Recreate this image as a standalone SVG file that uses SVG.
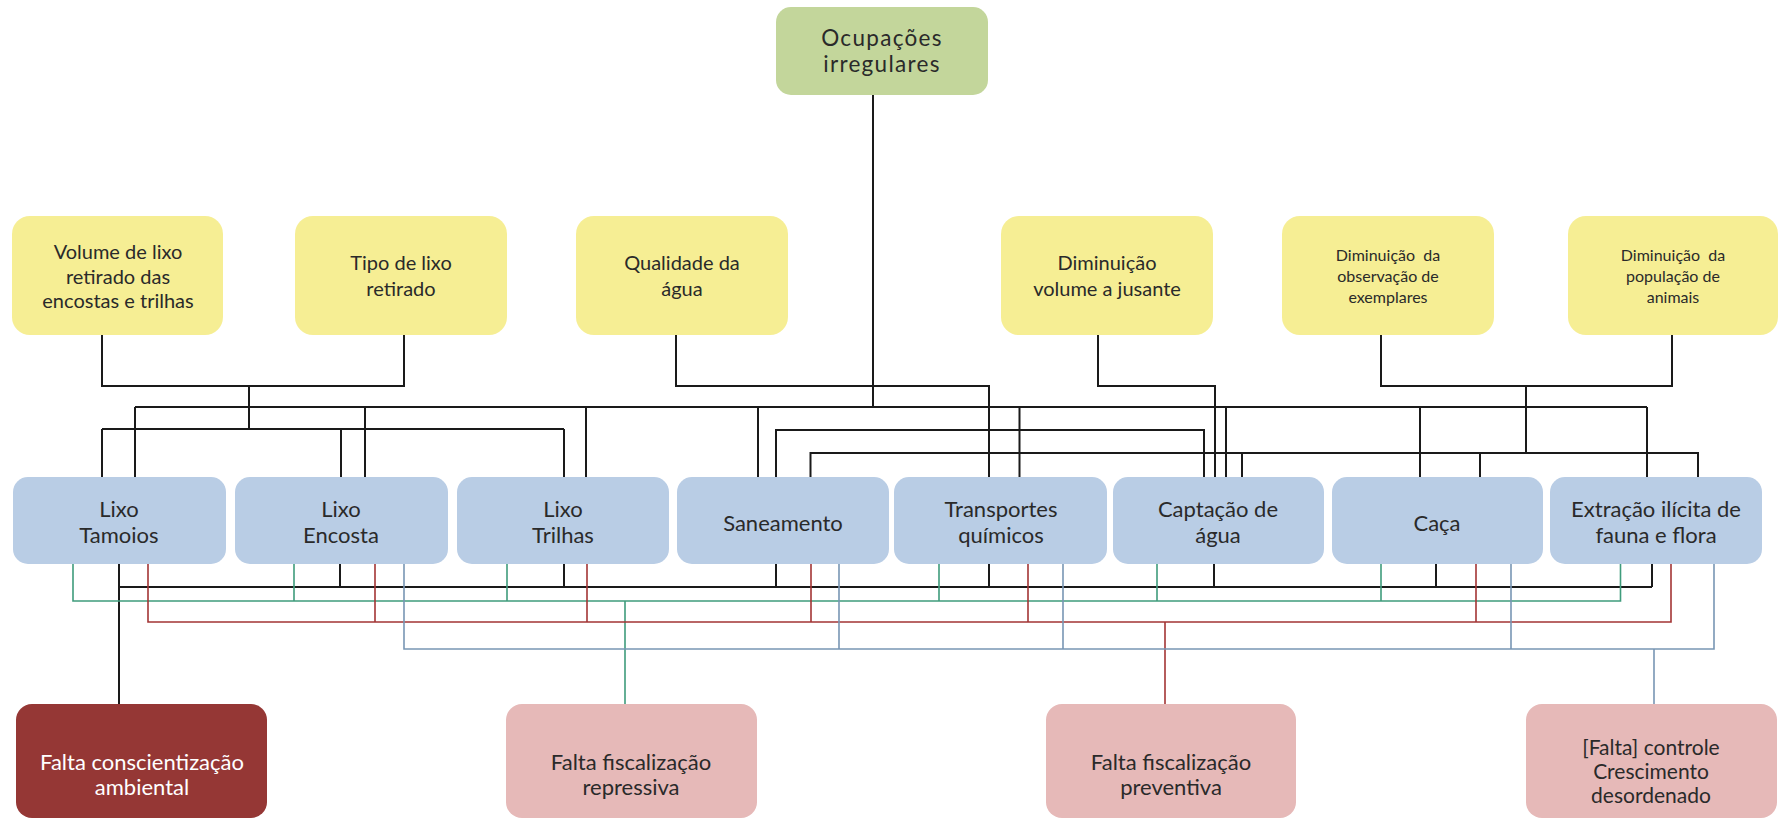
<svg xmlns="http://www.w3.org/2000/svg" width="1781" height="819" viewBox="0 0 1781 819">
<style>
.t{font-family:Lato,"Liberation Sans",sans-serif;text-anchor:middle;fill:#2a2a2a}
.m{font-size:22px}
.f{font-size:21px}
.o{font-size:22.5px;letter-spacing:1.3px}
.y{font-size:20px}
.s{font-size:16px}
.w{fill:#ffffff}
.gr{fill:#C3D69B}
.ye{fill:#F6EE94}
.bl{fill:#B9CDE5}
.pk{fill:#E6B9B8}
.dr{fill:#953735}
.k{stroke:#1a1a1a;stroke-width:2;fill:none}
.cg{stroke:#3f9c7c;stroke-width:1.6;fill:none}
.cr{stroke:#a33535;stroke-width:1.6;fill:none}
.cb{stroke:#7896b4;stroke-width:1.6;fill:none}
</style>
<rect width="1781" height="819" fill="#ffffff"/>
<g id="connectors">
<path class="k" d="M102 335V386H404V335M249 386V429M102 429H564M102 429V477M341 429V477M564 429V477"/>
<path class="k" d="M873 95V407M135 407H1647M135 407V477M365 407V477M586 407V477M758 407V477M1019.5 407V477M1226 407V477M1420 407V477M1647 407V477"/>
<path class="k" d="M676 335V386H989V477"/>
<path class="k" d="M776 477V430H1204V477"/>
<path class="k" d="M1098 335V386H1215V477"/>
<path class="k" d="M810.5 477V453H1698V477M1242 453V477M1480 453V477"/>
<path class="k" d="M1381 335V386H1672V335M1526 386V453"/>
<path class="k" d="M119 564V704M119 587H1652M340 564V587M564 564V587M776 564V587M989 564V587M1214 564V587M1436 564V587M1652 564V587"/>
<path class="cg" d="M73 564V601H1620.5V564M294 564V601M507 564V601M939 564V601M1157 564V601M1381 564V601M625 601V704"/>
<path class="cr" d="M148 564V622H1671V564M375 564V622M587 564V622M811 564V622M1028 564V622M1476 564V622M1165 622V704"/>
<path class="cb" d="M404 564V649H1714V564M839 564V649M1063 564V649M1511 564V649M1654 649V704"/>
</g>
<g id="ocupacoes"><rect class="gr" x="776" y="7" width="212" height="88" rx="15"/><text class="t o" x="882" y="46">Ocupações</text><text class="t o" x="882" y="72">irregulares</text></g>
<g id="volume-lixo"><rect class="ye" x="12" y="216" width="211" height="119" rx="18"/><text class="t y" x="118" y="259">Volume de lixo</text><text class="t y" x="118" y="284">retirado das</text><text class="t y" x="118" y="308">encostas e trilhas</text></g>
<g id="tipo-lixo"><rect class="ye" x="295" y="216" width="212" height="119" rx="18"/><text class="t y" x="401" y="270">Tipo de lixo</text><text class="t y" x="401" y="296">retirado</text></g>
<g id="qualidade"><rect class="ye" x="576" y="216" width="212" height="119" rx="18"/><text class="t y" x="682" y="270">Qualidade da</text><text class="t y" x="682" y="296">água</text></g>
<g id="dim-volume"><rect class="ye" x="1001" y="216" width="212" height="119" rx="18"/><text class="t y" x="1107" y="270">Diminuição</text><text class="t y" x="1107" y="296">volume a jusante</text></g>
<g id="dim-observacao"><rect class="ye" x="1282" y="216" width="212" height="119" rx="18"/><text class="t s" x="1388" y="261" style="white-space:pre">Diminuição  da</text><text class="t s" x="1388" y="282">observação de</text><text class="t s" x="1388" y="303">exemplares</text></g>
<g id="dim-populacao"><rect class="ye" x="1568" y="216" width="210" height="119" rx="18"/><text class="t s" x="1673" y="261" style="white-space:pre">Diminuição  da</text><text class="t s" x="1673" y="282">população de</text><text class="t s" x="1673" y="303">animais</text></g>
<g id="lixo-tamoios"><rect class="bl" x="13" y="477" width="213" height="87" rx="15"/><text class="t m" x="119" y="517">Lixo</text><text class="t m" x="119" y="543">Tamoios</text></g>
<g id="lixo-encosta"><rect class="bl" x="235" y="477" width="213" height="87" rx="15"/><text class="t m" x="341" y="517">Lixo</text><text class="t m" x="341" y="543">Encosta</text></g>
<g id="lixo-trilhas"><rect class="bl" x="457" y="477" width="212" height="87" rx="15"/><text class="t m" x="563" y="517">Lixo</text><text class="t m" x="563" y="543">Trilhas</text></g>
<g id="saneamento"><rect class="bl" x="677" y="477" width="212" height="87" rx="15"/><text class="t m" x="783" y="531">Saneamento</text></g>
<g id="transportes"><rect class="bl" x="894" y="477" width="213" height="87" rx="15"/><text class="t m" x="1001" y="517">Transportes</text><text class="t m" x="1001" y="543">químicos</text></g>
<g id="captacao"><rect class="bl" x="1113" y="477" width="211" height="87" rx="15"/><text class="t m" x="1218" y="517">Captação de</text><text class="t m" x="1218" y="543">água</text></g>
<g id="caca"><rect class="bl" x="1332" y="477" width="211" height="87" rx="15"/><text class="t m" x="1437" y="531">Caça</text></g>
<g id="extracao"><rect class="bl" x="1550" y="477" width="212" height="87" rx="15"/><text class="t m" x="1656" y="517">Extração ilícita de</text><text class="t m" x="1656" y="543">fauna e flora</text></g>
<g id="falta-conscientizacao"><rect class="dr" x="16" y="704" width="251" height="114" rx="16"/><text class="t m w" x="142" y="770">Falta conscientização</text><text class="t m w" x="142" y="795">ambiental</text></g>
<g id="falta-fisc-repressiva"><rect class="pk" x="506" y="704" width="251" height="114" rx="16"/><text class="t m" x="631" y="770">Falta fiscalização</text><text class="t m" x="631" y="795">repressiva</text></g>
<g id="falta-fisc-preventiva"><rect class="pk" x="1046" y="704" width="250" height="114" rx="16"/><text class="t m" x="1171" y="770">Falta fiscalização</text><text class="t m" x="1171" y="795">preventiva</text></g>
<g id="falta-controle"><rect class="pk" x="1526" y="704" width="251" height="114" rx="16"/><text class="t f" x="1651" y="755">[Falta] controle</text><text class="t f" x="1651" y="779">Crescimento</text><text class="t f" x="1651" y="803">desordenado</text></g>
</svg>
